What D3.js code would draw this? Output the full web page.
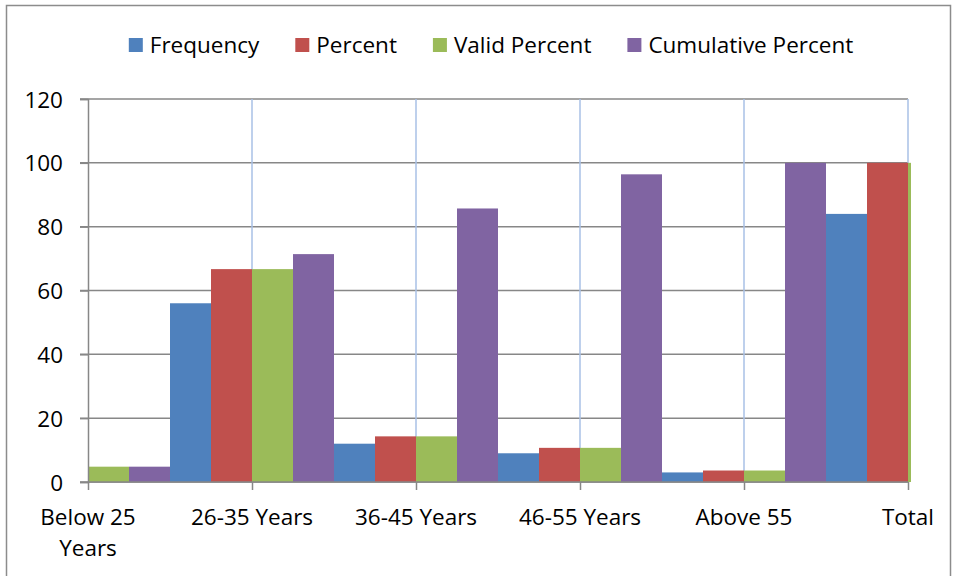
<!DOCTYPE html>
<html>
<head>
<meta charset="utf-8">
<script src="https://cdn.jsdelivr.net/npm/d3@7"></script>
<style>
  html, body { margin: 0; padding: 0; background: #fff; }
  svg text { font-family: "Open Sans", Lato, sans-serif; fill: #000; font-variant-ligatures: none; }
</style>
</head>
<body>
<svg id="chart" width="954" height="576"></svg>
<script>
// Age groups (the last one is the column total)
const categories = ["Below 25 Years", "26-35 Years", "36-45 Years", "46-55 Years", "Above 55", "Total"];
const seriesNames = ["Frequency", "Percent", "Valid Percent", "Cumulative Percent"];
const frequency = [4, 56, 12, 9, 3, 84];
const percent = [4.8, 66.7, 14.3, 10.7, 3.6, 100.0];
const validPercent = [4.8, 66.7, 14.3, 10.7, 3.6, 100.0];
const cumulativePercent = [4.8, 71.4, 85.7, 96.4, 100.0, null];
const yTicks = [0, 20, 40, 60, 80, 100, 120];
const colors = ["#4f81bd", "#c0504d", "#9bbb59", "#8064a2"];

const seriesValues = [frequency, percent, validPercent, cumulativePercent];

const svg = d3.select("#chart");
const plot = { left: 88, right: 908, top: 99, bottom: 482 };
const fontSize = 22.5;

// outer chart frame
svg.append("rect")
  .attr("x", 6.5).attr("y", 5.5)
  .attr("width", 944).attr("height", 580)
  .attr("fill", "#fff").attr("stroke", "#8c8c8c").attr("stroke-width", 1.5);

// category centres sit on the tick marks
const x = d3.scalePoint().domain(categories).range([plot.left, plot.right]);
const step = x.step();
const xInner = d3.scaleBand().domain(seriesNames).range([-step / 2, step / 2]).padding(0);
const y = d3.scaleLinear().domain([0, 120]).range([plot.bottom, plot.top]);

// horizontal gridlines
svg.append("g")
  .selectAll("line").data(yTicks).join("line")
  .attr("x1", plot.left - 8).attr("x2", plot.right)
  .attr("y1", d => y(d)).attr("y2", d => y(d))
  .attr("stroke", "#878787").attr("stroke-width", 1.5);

// vertical gridlines at category boundaries
svg.append("g")
  .selectAll("line").data(categories.slice(1)).join("line")
  .attr("x1", d => x(d)).attr("x2", d => x(d))
  .attr("y1", plot.top).attr("y2", plot.bottom)
  .attr("stroke", "#a8c0e6").attr("stroke-width", 1.5);

// bars, clipped to the plotting area
svg.append("clipPath").attr("id", "plotClip")
  .append("rect")
  .attr("x", plot.left).attr("y", plot.top - 5)
  .attr("width", plot.right - plot.left + 3).attr("height", plot.bottom - plot.top + 5);

const bars = svg.append("g").attr("clip-path", "url(#plotClip)");
seriesNames.forEach((name, si) => {
  const data = categories.map((c, ci) => ({ c, v: seriesValues[si][ci] })).filter(d => d.v != null);
  bars.append("g")
    .selectAll("rect").data(data).join("rect")
    .attr("x", d => x(d.c) + xInner(name))
    .attr("width", xInner.bandwidth())
    .attr("y", d => y(d.v))
    .attr("height", d => y(0) - y(d.v))
    .attr("fill", colors[si]);
});

// y axis line and ticks
const yAxis = d3.axisLeft(y).tickValues(yTicks).tickSize(8).tickPadding(17);
const gy = svg.append("g").attr("transform", `translate(${plot.left},0)`).call(yAxis);
gy.select(".domain").attr("stroke", "#878787").attr("stroke-width", 1.5);
gy.selectAll(".tick line").attr("stroke", "#878787").attr("stroke-width", 1.5);
gy.selectAll(".tick text")
  .attr("font-size", fontSize).attr("font-family", null).attr("fill", "#000")
  .attr("dy", "0.36em");

// x axis line and tick marks
const xAxis = d3.axisBottom(x).tickSize(8).tickSizeOuter(0).tickFormat("");
const gx = svg.append("g").attr("transform", `translate(0,${plot.bottom})`).call(xAxis);
gx.select(".domain").attr("stroke", "#878787").attr("stroke-width", 1.5)
  .attr("d", `M${plot.left},0H${plot.right}`);
gx.selectAll(".tick line").attr("stroke", "#878787").attr("stroke-width", 1.5);

// category labels (wrapped where needed)
const labelLines = {
  "Below 25 Years": ["Below 25", "Years"]
};
const xl = svg.append("g");
categories.forEach(c => {
  const lines = labelLines[c] || [c];
  const t = xl.append("text")
    .attr("text-anchor", "middle")
    .attr("font-size", fontSize)
    .attr("x", x(c)).attr("y", 525);
  lines.forEach((ln, i) => {
    t.append("tspan").attr("x", x(c)).attr("dy", i === 0 ? 0 : 31).text(ln);
  });
});

// legend
const legend = svg.append("g");
const items = seriesNames.map((name, i) => {
  const g = legend.append("g");
  g.append("rect").attr("x", 0).attr("y", -15).attr("width", 14).attr("height", 14).attr("fill", colors[i]);
  const t = g.append("text").attr("x", 21).attr("y", 0).attr("font-size", fontSize).text(name);
  return { g, w: 21 + t.node().getComputedTextLength() };
});
const gap = 36;
const totalW = d3.sum(items, d => d.w) + gap * (items.length - 1);
let lx = 491 - totalW / 2;
items.forEach(it => {
  it.g.attr("transform", `translate(${lx},53)`);
  lx += it.w + gap;
});
</script>
</body>
</html>
